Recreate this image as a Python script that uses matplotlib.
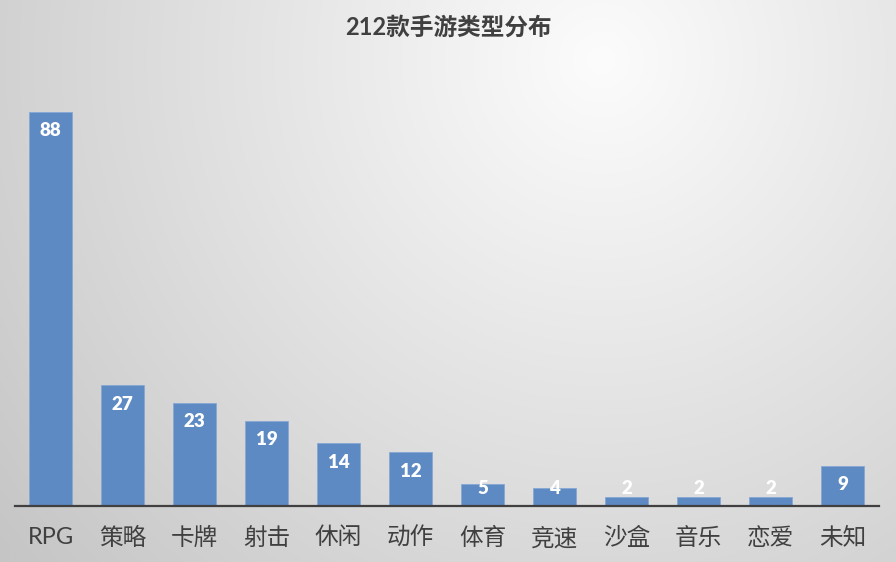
import numpy as np
import matplotlib
matplotlib.use("Agg")
import matplotlib.pyplot as plt

# ============================================================
# DATA
# ============================================================

categories = ["RPG", "策略", "卡牌", "射击", "休闲", "动作",
              "体育", "竞速", "沙盒", "音乐", "恋爱", "未知"]
counts = [88, 27, 23, 19, 14, 12, 5, 4, 2, 2, 2, 9]
title = "212款手游类型分布"

FONTS = ["Lato", "Noto Sans CJK SC", "DejaVu Sans"]
plt.rcParams["font.family"] = FONTS

W, H, DPI = 896, 562, 100
fig = plt.figure(figsize=(W / DPI, H / DPI), dpi=DPI)

# radial gradient background
yy, xx = np.mgrid[0:H, 0:W]
dist = np.sqrt((xx - 600) ** 2 + (yy - 60) ** 2)
shade = np.clip(252 - dist / 850 * 60, 198, 255) / 255.0
bg = np.dstack([shade, shade, shade])
bg_ax = fig.add_axes([0, 0, 1, 1])
bg_ax.imshow(bg, aspect="auto", extent=[0, 1, 0, 1])
bg_ax.axis("off")

# main axes
ax = fig.add_axes([14.5 / W, 56 / H, 864 / W, 448 / H])
ax.patch.set_alpha(0)

x = np.arange(len(categories))
ax.bar(x, counts, width=0.6, color="#5E8AC4", edgecolor="#86A8D6", linewidth=0.6, zorder=2)

ax.set_xlim(-0.5, len(categories) - 0.5)
ax.set_ylim(0, 100)

# value labels inside the bar top (clamped for short bars)
px_per_unit = 448 / 100
for xi, v in zip(x, counts):
    ylab = max(v - 19 / px_per_unit, 17 / px_per_unit)
    ax.text(xi, ylab, str(v), ha="center", va="center", color="white",
            fontsize=13.5, fontweight="heavy", zorder=3)

for s in ["top", "right", "left"]:
    ax.spines[s].set_visible(False)
ax.spines["bottom"].set_color("#404040")
ax.spines["bottom"].set_linewidth(1.6)
ax.spines["bottom"].set_zorder(4)

ax.set_yticks([])
ax.set_xticks(x)
ax.set_xticklabels(categories, fontsize=17, color="#404040")
ax.tick_params(axis="x", length=0, pad=15)

fig.text(0.5, 1 - 27 / H, title, ha="center", va="center",
         fontsize=17, fontweight="bold", color="#404040")

fig.savefig("out.png", dpi=DPI)
